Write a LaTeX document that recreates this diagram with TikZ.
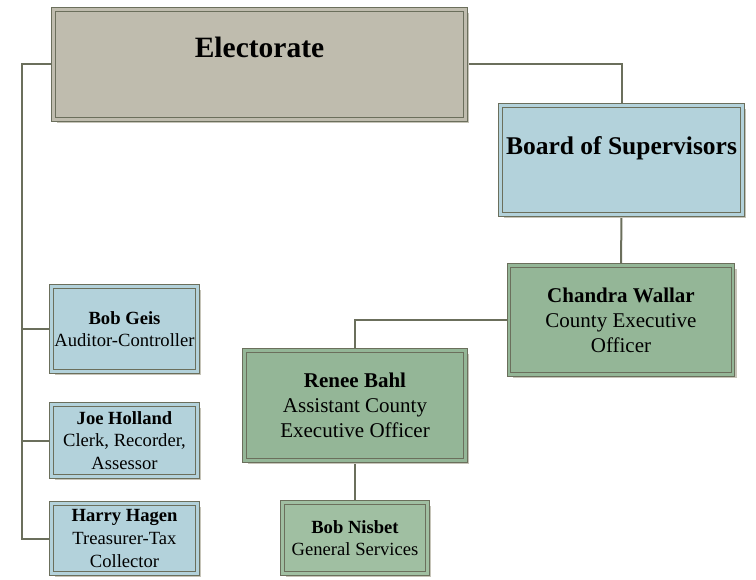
\documentclass[tikz,border=0pt]{standalone}
\usepackage{fontspec}
\setmainfont{Liberation Serif}
\usepackage{xcolor}
\usetikzlibrary{positioning}
\usetikzlibrary{shadows}
\usetikzlibrary{backgrounds}
\definecolor{linegray}{HTML}{6B6F5C}
\definecolor{shadowgray}{HTML}{C6C4B8}
\definecolor{tanfill}{HTML}{BFBCAE}
\definecolor{bluefill}{HTML}{B3D2DB}
\definecolor{greenfill}{HTML}{94B697}
\definecolor{lightgreen}{HTML}{A0BFA2}

\tikzset{
	box/.style={draw=linegray, line width=0.9pt, double distance=2.8pt, align=center, inner sep=1pt,
		drop shadow={shadow xshift=3.5pt, shadow yshift=-3.5pt, fill=shadowgray, opacity=1}},
	tanbox/.style={box, fill=tanfill, double=tanfill},
	bluebox/.style={box, fill=bluefill, double=bluefill},
	greenbox/.style={box, fill=greenfill, double=greenfill},
	bigtxt/.style={font=\fontsize{25.5}{30}\selectfont\bfseries},
	midtxt/.style={font=\fontsize{21}{25}\selectfont},
	smalltxt/.style={font=\fontsize{18.6}{22.6}\selectfont},
	link/.style={draw=linegray, line width=2pt}
}

\begin{document}
\begin{tikzpicture}[x=1pt, y=-1pt]
	\useasboundingbox (0,0) rectangle (756,580);
	
	% top level
	\node[tanbox, minimum width=412pt, minimum height=110pt, text depth=34pt,
		font=\fontsize{29.5}{34}\selectfont\bfseries] (elec) at (259.5,64.5) {Electorate};
	\node[bluebox, bigtxt, minimum width=242pt, minimum height=109pt, text depth=29pt] (board) at (621.5,160)
		{Board of Supervisors};
	
	% executive branch
	\node[greenbox, midtxt, minimum width=224pt, minimum height=109pt] (wallar) at (621,320)
		{\textbf{Chandra Wallar}\\County Executive\\Officer};
	\node[greenbox, midtxt, minimum width=221pt, minimum height=110pt] (bahl) at (355,405.5)
		{\textbf{Renee Bahl}\\Assistant County\\Executive Officer};
	\node[box, smalltxt, fill=lightgreen, double=lightgreen, minimum width=145pt, minimum height=71pt] (nisbet) at (355,538)
		{\textbf{Bob Nisbet}\\General Services};
	
	% elected officers
	\node[bluebox, smalltxt, minimum width=146pt, minimum height=85pt] (geis) at (124.5,329)
		{\textbf{Bob Geis}\\Auditor-Controller};
	\node[bluebox, smalltxt, minimum width=146pt, minimum height=72pt] (holland) at (124.5,440.5)
		{\textbf{Joe Holland}\\Clerk, Recorder,\\Assessor};
	\node[bluebox, smalltxt, minimum width=146pt, minimum height=70pt] (hagen) at (124.5,538.5)
		{\textbf{Harry Hagen}\\Treasurer-Tax\\Collector};
	
	% draw connectors
	\coordinate (trunk) at (22,64.5);
	\begin{scope}[on background layer]
		\draw[link] (elec.west) -- (trunk) |- (hagen.west);
		\draw[link] (trunk |- geis.west) -- (geis.west);
		\draw[link] (trunk |- holland.west) -- (holland.west);
		\draw[link] (elec.east) -| (board.north);
		\draw[link] (board.south) -- (wallar.north);
		\draw[link] (wallar.west) -| (bahl.north);
		\draw[link] (bahl.south) -- (nisbet.north);
	\end{scope}
\end{tikzpicture}
\end{document}
